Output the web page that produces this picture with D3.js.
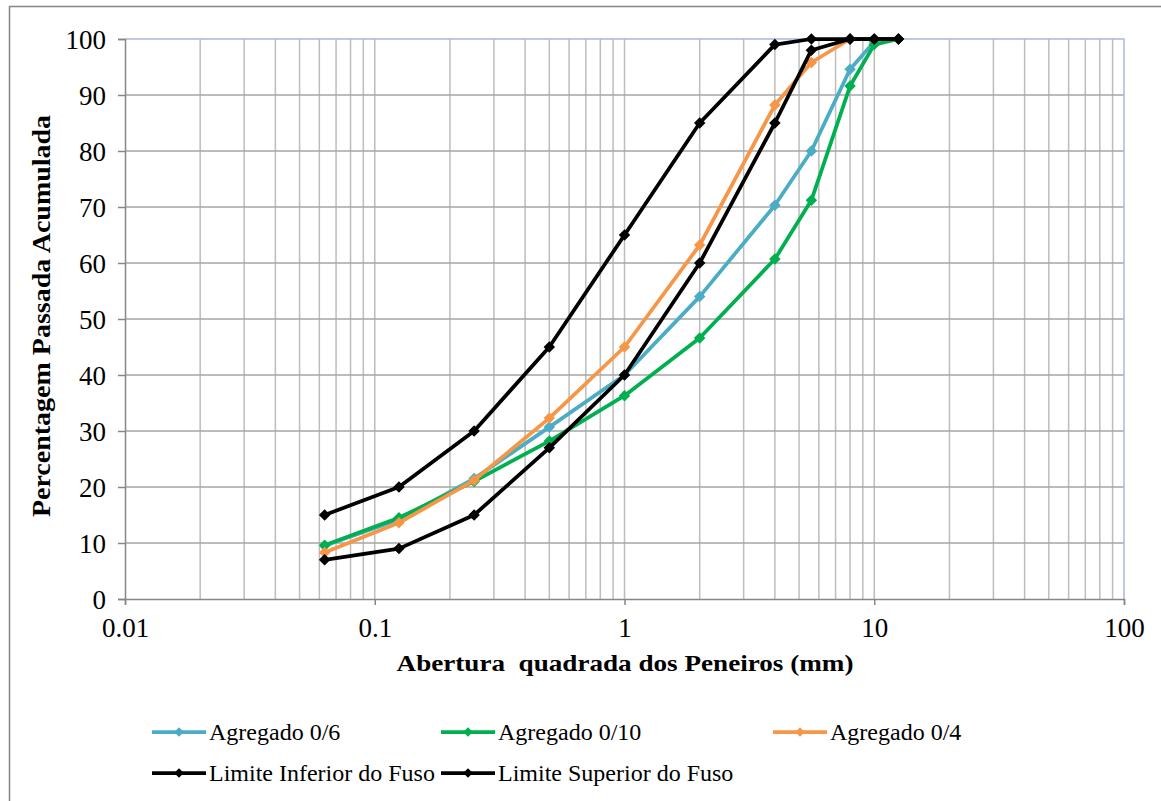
<!DOCTYPE html>
<html><head><meta charset="utf-8">
<script src="https://cdn.jsdelivr.net/npm/d3@7"></script>
<style>body{margin:0;background:#fff}</style>
</head><body>
<script>
const sieves = [0.063, 0.125, 0.25, 0.5, 1, 2, 4, 5.6, 8, 10, 12.5];
const agregado06 = [9.5, 14.2, 21.5, 30.7, 40, 54, 70.3, 80, 94.6, 99.5, null];
const agregado010 = [9.6, 14.5, 21, 28.2, 36.3, 46.6, 60.7, 71.2, 91.6, 99, 100];
const agregado04 = [8.3, 13.6, 21.2, 32.3, 45, 63.2, 88.2, 95.8, 100, null, null];
const limiteInferior = [7, 9, 15, 27, 40, 60, 85, 98, 100, 100, 100];
const limiteSuperior = [15, 20, 30, 45, 65, 85, 99, 100, 100, 100, 100];
const seriesNames = ["Agregado 0/6", "Agregado 0/10", "Agregado 0/4", "Limite Inferior do Fuso", "Limite Superior do Fuso"];
const seriesColors = ["#4bacc6", "#00b050", "#f79646", "#000000", "#000000"];
const yTicks = [0,10,20,30,40,50,60,70,80,90,100];
const xTicks = [0.01, 0.1, 1, 10, 100];

const W = 1161, H = 801;
const FONT = "'Liberation Serif', 'Times New Roman', serif";
const svg = d3.select("body").append("svg").attr("width", W).attr("height", H);
svg.append("rect").attr("x",9.5).attr("y",6.5).attr("width",1200).attr("height",850)
  .attr("fill","#fff").attr("stroke","#868686").attr("stroke-width",1.5);

const L=125, R=1124, T=39, B=599;
const x = d3.scaleLog().domain([0.01,100]).range([L,R]);
const y = d3.scaleLinear().domain([0,100]).range([B,T]);

// minor & major vertical gridlines
const vgrid = [];
for (let e=-2; e<2; e++) for (let m=1; m<=9; m++) vgrid.push(m*Math.pow(10,e));
svg.append("g").selectAll("line").data(vgrid.filter(v=>v>0.01)).join("line")
  .attr("x1",d=>x(d)).attr("x2",d=>x(d)).attr("y1",T).attr("y2",B)
  .attr("stroke","#bdbdbd").attr("stroke-width",1.5);
svg.append("g").selectAll("line").data(yTicks.filter(v=>v>0 && v<100)).join("line")
  .attr("x1",L).attr("x2",R).attr("y1",d=>y(d)).attr("y2",d=>y(d))
  .attr("stroke","#a6a6a6").attr("stroke-width",1.5);
// plot area border (top/right)
svg.append("path").attr("d",`M${L},${T}H${R}V${B}`).attr("fill","none")
  .attr("stroke","#a7b9df").attr("stroke-width",1.5);

// axes
const yAxis = svg.append("g").attr("transform",`translate(${L},0)`)
  .call(d3.axisLeft(y).tickValues(yTicks).tickSize(7).tickFormat(d3.format("d")));
const xAxis = svg.append("g").attr("transform",`translate(0,${B})`)
  .call(d3.axisBottom(x).tickValues(xTicks).tickSize(6).tickFormat(d=>String(d)));
[yAxis,xAxis].forEach(a=>{
  a.attr("font-family",null).attr("font-size",null);
  a.select(".domain").attr("stroke","#868686").attr("stroke-width",1.5);
  a.selectAll(".tick line").attr("stroke","#868686").attr("stroke-width",1.5);
  a.selectAll("text").style("font-family",FONT).style("font-size","27px").attr("fill","#000");
});
yAxis.selectAll("text").attr("x",-19).attr("dy","0.35em");
xAxis.selectAll("text").attr("y",19).attr("dy","0.71em");

svg.append("text").attr("transform","translate(625,671) scale(1.18,1)").attr("text-anchor","middle")
  .style("font-family",FONT).style("font-weight","bold").style("font-size","23px")
  .style("white-space","pre")
  .text("Abertura  quadrada dos Peneiros (mm)");
svg.append("text").attr("transform","translate(50,316) rotate(-90) scale(1.12,1)").attr("text-anchor","middle")
  .style("font-family",FONT).style("font-weight","bold").style("font-size","25px")
  .text("Percentagem Passada Acumulada");

const squareDiamond = {draw(ctx, size){ const r = Math.sqrt(size/2);
  ctx.moveTo(0,-r); ctx.lineTo(r,0); ctx.lineTo(0,r); ctx.lineTo(-r,0); ctx.closePath(); }};
const allSeries = [agregado06, agregado010, agregado04, limiteInferior, limiteSuperior];
const line = d3.line().defined(d=>d.v!=null).x(d=>x(d.s)).y(d=>y(d.v));
const diamond = d3.symbol().type(squareDiamond).size(66);
allSeries.forEach((vals,i)=>{
  const pts = sieves.map((s,j)=>({s, v: vals[j]}));
  const g = svg.append("g");
  g.append("path").datum(pts).attr("d",line).attr("fill","none")
    .attr("stroke",seriesColors[i]).attr("stroke-width",3.75).attr("stroke-linejoin","round");
  g.selectAll("path.m").data(pts.filter(d=>d.v!=null)).join("path").attr("class","m")
    .attr("d",diamond).attr("transform",d=>`translate(${x(d.s)},${y(d.v)})`)
    .attr("fill",seriesColors[i]);
});

// legend
const legPos = [[152,732],[441,732],[773,732],[152,773],[441,773]];
const legDiamond = d3.symbol().type(squareDiamond).size(45);
seriesNames.forEach((n,i)=>{
  const [lx,ly] = legPos[i];
  const g = svg.append("g");
  g.append("line").attr("x1",lx).attr("x2",lx+54).attr("y1",ly).attr("y2",ly)
    .attr("stroke",seriesColors[i]).attr("stroke-width",3.75);
  g.append("path").attr("d",legDiamond).attr("transform",`translate(${lx+27},${ly})`).attr("fill",seriesColors[i]);
  g.append("text").attr("x",lx+57).attr("y",ly).attr("dy","0.35em")
    .style("font-family",FONT).style("font-size","24px").text(n);
});
</script>
</body></html>
